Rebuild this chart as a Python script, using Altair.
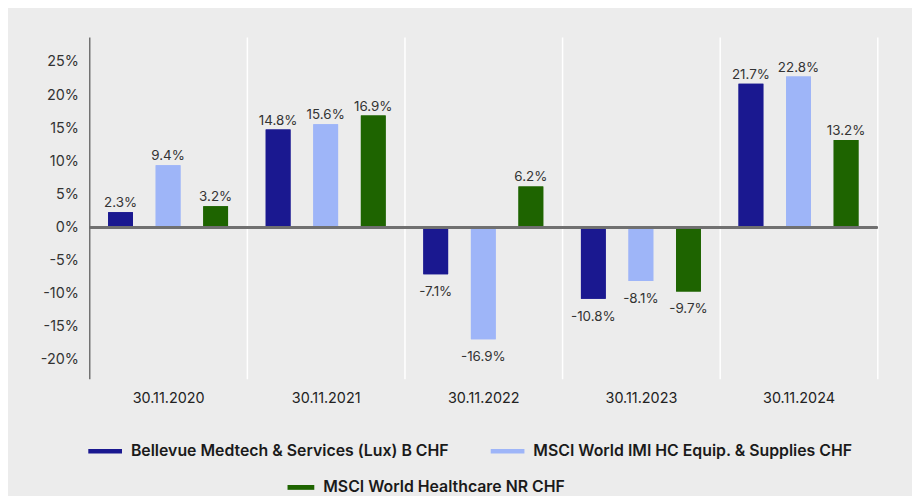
import altair as alt
import pandas as pd

dates = ["30.11.2020", "30.11.2021", "30.11.2022", "30.11.2023", "30.11.2024"]
series = [
    "Bellevue Medtech & Services (Lux) B CHF",
    "MSCI World IMI HC Equip. & Supplies CHF",
    "MSCI World Healthcare NR CHF",
]
fund = [2.3, 14.8, -7.1, -10.8, 21.7]
equip = [9.4, 15.6, -16.9, -8.1, 22.8]
health = [3.2, 16.9, 6.2, -9.7, 13.2]
colors = ["#1a1890", "#9eb5f8", "#1e6400"]
y_ticks = [-20, -15, -10, -5, 0, 5, 10, 15, 20, 25]

rows = []
for s, vals in zip(series, [fund, equip, health]):
    for d, v in zip(dates, vals):
        rows.append({"date": d, "series": s, "value": v, "label": f"{v:.1f}%"})
df = pd.DataFrame(rows)

FONT = "Inter"

x = alt.X(
    "date:N", sort=dates,
    scale=alt.Scale(paddingInner=0, paddingOuter=0),
    axis=alt.Axis(title=None, domain=False, ticks=False, grid=True, tickBand="extent",
                  gridColor="#ffffff", gridWidth=1.5, labelAngle=0, labelFont=FONT,
                  labelFontSize=14.5, labelColor="#222222", labelPadding=13),
)
xo = alt.XOffset("series:N", sort=series,
                 scale=alt.Scale(paddingInner=0.479, paddingOuter=0.396))
yscale = alt.Scale(domain=[-22.9, 28.8], nice=False, zero=False)
yaxis = alt.Axis(title=None, values=y_ticks, labelExpr="datum.value + '%'", grid=False,
                 ticks=False, domainColor="#6e6e6e", domainWidth=1.5, labelFont=FONT,
                 labelFontSize=14.5, labelColor="#333333", labelPadding=11, zindex=1,
                 labelOverlap=False)
y = alt.Y("value:Q", scale=yscale, axis=yaxis)

def legend(vals, lx, ly, sym, size):
    return alt.Legend(title=None, orient="none", legendX=lx, legendY=ly,
                      direction="horizontal", values=vals, symbolType=sym,
                      symbolSize=size, symbolStrokeWidth=0, symbolOpacity=1,
                      labelFont=FONT, labelFontSize=16, labelFontWeight=600,
                      labelColor="#1a1a1a", labelOffset=9, columnPadding=42,
                      labelLimit=0, padding=0)

cscale = alt.Scale(domain=series, range=colors)

bars_a = alt.Chart(df).mark_bar().encode(
    x=x, xOffset=xo, y=y,
    color=alt.Color("series:N", scale=cscale,
                    legend=legend(series[:2], -1, 401, "M-1,-0.14H1V0.14H-1Z", 1156)),
)
bars_b = alt.Chart(df).mark_bar().encode(
    x=x, xOffset=xo, y=y,
    color=alt.Color("series:N", scale=cscale,
                    legend=legend(series[2:], 200, 441, "M-1,-0.18H1V0.18H-1Z", 729)),
)
txt_pos = alt.Chart(df).transform_filter("datum.value >= 0").mark_text(
    font=FONT, fontSize=13.5, color="#333333", baseline="alphabetic", dy=-5
).encode(x=x, xOffset=xo, y=y, text="label:N")
txt_neg = alt.Chart(df).transform_filter("datum.value < 0").mark_text(
    font=FONT, fontSize=13.5, color="#333333", baseline="top", dy=11
).encode(x=x, xOffset=xo, y=y, text="label:N")
zero = alt.Chart(df).mark_rule(color="#707070", strokeWidth=1.5).encode(
    y=alt.Y(datum=0, type="quantitative", scale=yscale, axis=yaxis))

chart = (
    alt.layer(bars_a, bars_b, zero, txt_pos, txt_neg)
    .resolve_scale(color="independent")
    .properties(
        width=795, height=345,
        autosize=alt.AutoSizeParams(type="none"),
        padding={"left": 82, "top": 27, "right": 35, "bottom": 116},
        background="#ececec",
    )
    .configure_view(stroke=None)
)

chart.save("out.html", embed_options={"renderer": "svg", "actions": False})
